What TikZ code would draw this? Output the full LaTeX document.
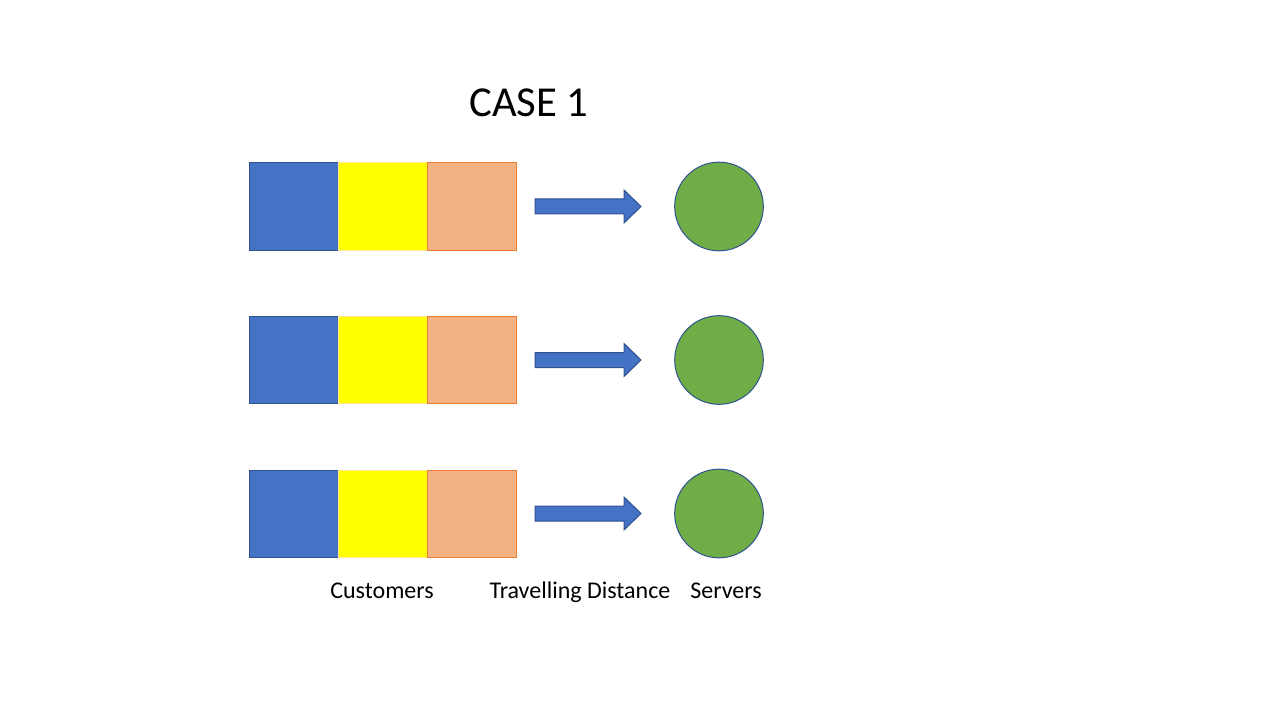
\documentclass[tikz,border=0pt]{standalone}
\usepackage{fontspec}
\setmainfont{Carlito}
\usetikzlibrary{positioning}
\definecolor{custblue}{HTML}{4472C4}
\definecolor{custbluedark}{HTML}{2F528F}
\definecolor{custyellow}{HTML}{FFFF00}
\definecolor{custyellowedge}{HTML}{FFE699}
\definecolor{custorange}{HTML}{F4B183}
\definecolor{custorangeedge}{HTML}{ED7D31}
\definecolor{servergreen}{HTML}{70AD47}

\begin{document}
\begin{tikzpicture}[x=0.75pt, y=-0.75pt,
    custbox/.style={draw, line width=0.75pt, inner sep=0pt, outer sep=0pt,
        minimum width=66.75pt, minimum height=65.25pt},
    serverball/.style={circle, draw=custbluedark, fill=servergreen, line width=0.75pt,
        inner sep=0pt, minimum size=66.5pt},
    movearrow/.style={draw=custbluedark, fill=custblue, line width=0.75pt},
    caption/.style={font=\fontsize{18}{22}\selectfont, inner sep=0pt, anchor=base}]
    \useasboundingbox (0,0) rectangle (1280,720);

    % Title
    \node[font=\fontsize{32}{38}\selectfont, inner sep=0pt] (title) at (529,103) {CASE 1};

    % Three queues, each with customers, an arrow and a server
    \foreach \yc/\i in {206.5/1, 360/2, 513.5/3} {
        \node[custbox, draw=custbluedark, fill=custblue] (cb\i) at (293.5,\yc) {};
        \node[custbox, draw=custyellowedge, fill=custyellow, right=0pt of cb\i] (cy\i) {};
        \node[custbox, draw=custorangeedge, fill=custorange, right=0pt of cy\i] (co\i) {};
        % block arrow
        \draw[movearrow] (535,\yc-7.5) -- ++(89,0) -- ++(0,-9) -- ++(17,16.5)
            -- ++(-17,16.5) -- ++(0,-9) -- ++(-89,0) -- cycle;
        \node[serverball] (srv\i) at (719,\yc) {};
    }

    % Labels
    \node[caption] (lblcust) at (382,598) {Customers};
    \node[caption] (lbldist) at (580,598) {Travelling Distance};
    \node[caption] (lblsrv) at (726,598) {Servers};
\end{tikzpicture}
\end{document}
